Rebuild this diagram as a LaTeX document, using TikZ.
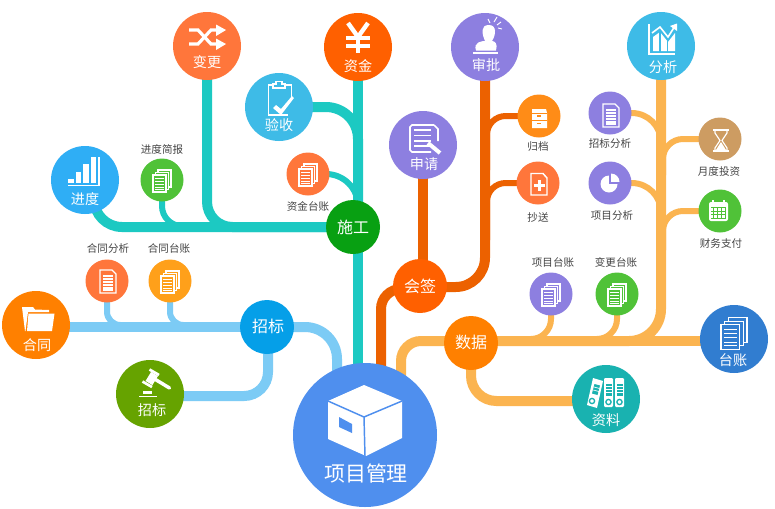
\documentclass[tikz,border=0pt]{standalone}
\usepackage{fontspec}
\setmainfont{Noto Sans CJK SC}
\usetikzlibrary{backgrounds,calc}
\definecolor{cTeal}{HTML}{1CC9C2}
\definecolor{cRust}{HTML}{EC6100}
\definecolor{cAmber}{HTML}{FBB450}
\definecolor{cSky}{HTML}{7CCBF5}
\definecolor{cCoral}{HTML}{FF763B}
\definecolor{cRed}{HTML}{FF6000}
\definecolor{cCyan}{HTML}{3EBBE7}
\definecolor{cAzure}{HTML}{2FAEF5}
\definecolor{cLime}{HTML}{50C238}
\definecolor{cForest}{HTML}{08A012}
\definecolor{cViolet}{HTML}{8D7FE0}
\definecolor{cOrange}{HTML}{FF8000}
\definecolor{cTang}{HTML}{FF8C17}
\definecolor{cGold}{HTML}{FFA01A}
\definecolor{cTan}{HTML}{CD9C62}
\definecolor{cBlue}{HTML}{059FE8}
\definecolor{cOlive}{HTML}{66A300}
\definecolor{cMain}{HTML}{4F8FEE}
\definecolor{cNavy}{HTML}{317DD0}
\definecolor{cSea}{HTML}{19B2B0}
\definecolor{cLabel}{HTML}{444444}
\tikzset{
  x=0.75pt,y=-0.75pt,
  bigdisc/.style={circle,inner sep=0pt,minimum size=51pt,fill=#1},
  middisc/.style={circle,inner sep=0pt,minimum size=40.5pt,fill=#1},
  smalldisc/.style={circle,inner sep=0pt,minimum size=32.25pt,fill=#1},
  inlabel/.style={text=white,font=\fontsize{10.6pt}{12pt}\selectfont,inner sep=0pt},
  midlabel/.style={text=white,font=\fontsize{12pt}{14pt}\selectfont,inner sep=0pt},
  outlabel/.style={text=cLabel,font=\fontsize{7.9pt}{10pt}\selectfont,inner sep=0pt},
  trunk/.style={draw=#1,line width=7.5pt,rounded corners=19pt},
  twig/.style={draw=#1,line width=4.5pt,rounded corners=15pt},
  icon/.style={draw=white,line width=0.85pt,line join=miter},
  solidic/.style={fill=white,draw=none},
}
% node, disc colour, scale, offset
\newcommand{\stackic}[4]{%
  \begin{scope}[shift={(#1.center)},shift={#4},scale=#3,icon]
    \foreach \dd in {5,2.5,0} {\draw[fill=#2] (-9+\dd,-5-\dd) rectangle (4+\dd,12-\dd);}
    \foreach \yy in {-2,1,4,7,9.5} {\draw[line width=.6pt] (-7,\yy) -- (2,\yy);}
  \end{scope}}
% node, offset
\newcommand{\docic}[2]{%
  \begin{scope}[shift={(#1.center)},shift={#2},icon]
    \draw (-7,-11) -- (5,-11) -- (9,-7) -- (9,12) -- (-7,12) -- cycle;
    \foreach \yy in {-5,-2,1,4,7,9} {\draw[line width=.8pt] (-4,\yy) -- (6,\yy);}
  \end{scope}}
\begin{document}
\begin{tikzpicture}
\path[use as bounding box] (0,0) rectangle (775,508);

% discs and labels
\node[bigdisc=cCoral] (bg) at (207,46) {};
\node[inlabel] (bgt) at (207,62) {变更};
\node[bigdisc=cRed] (zj) at (358,47) {};
\node[inlabel] (zjt) at (358,66) {资金};
\node[bigdisc=cCyan] (ys) at (279,107) {};
\node[inlabel] (yst) at (279,125) {验收};
\node[bigdisc=cAzure] (jd) at (85,180) {};
\node[inlabel] (jdt) at (85,199) {进度};
\node[smalldisc=cLime] (jb) at (162,180) {};
\node[outlabel] (jbt) at (162,149) {进度简报};
\node[smalldisc=cCoral] (zt) at (308,174) {};
\node[outlabel] (ztt) at (308,206) {资金台账};
\node[middisc=cForest] (sg) at (353,227) {};
\node[midlabel] (sgt) at (353,227) {施工};
\node[bigdisc=cViolet] (sq) at (423,145) {};
\node[inlabel] (sqt) at (424,164) {申请};
\node[bigdisc=cViolet] (sp) at (485,47) {};
\node[inlabel] (spt) at (486,65) {审批};
\node[smalldisc=cTang] (gd) at (539,116) {};
\node[outlabel] (gdt) at (538,147) {归档};
\node[smalldisc=cCoral] (cs) at (538,183) {};
\node[outlabel] (cst) at (538,217) {抄送};
\node[smalldisc=cViolet] (zf) at (610,113) {};
\node[outlabel] (zft) at (610,144) {招标分析};
\node[smalldisc=cViolet] (xf) at (610,183) {};
\node[outlabel] (xft) at (612,216) {项目分析};
\node[bigdisc=cCyan] (fx) at (661,46) {};
\node[inlabel] (fxt) at (663,67) {分析};
\node[smalldisc=cTan] (yd) at (720,139) {};
\node[outlabel] (ydt) at (719,171) {月度投资};
\node[smalldisc=cLime] (cw) at (720,211) {};
\node[outlabel] (cwt) at (721,243) {财务支付};
\node[bigdisc=cOrange] (ht) at (36,325) {};
\node[inlabel] (htt) at (37,345) {合同};
\node[smalldisc=cCoral] (hf) at (107,281) {};
\node[outlabel] (hft) at (108,248) {合同分析};
\node[smalldisc=cGold] (hz) at (170,281) {};
\node[outlabel] (hzt) at (169,248) {合同台账};
\node[middisc=cBlue] (zb) at (267,327) {};
\node[midlabel] (zbt) at (268,326) {招标};
\node[bigdisc=cOlive] (zg) at (150,394) {};
\node[inlabel] (zgt) at (152,410) {招标};
\node[circle,inner sep=0pt,minimum size=108pt,fill=cMain] (pm) at (365,435) {};
\node[text=white,font=\fontsize{15.7pt}{18pt}\selectfont,inner sep=0pt] (pmt) at (366,474) {项目管理};
\node[middisc=cRed] (hq) at (420,286) {};
\node[midlabel] (hqt) at (420,286) {会签};
\node[middisc=cOrange] (sj) at (471,343) {};
\node[midlabel] (sjt) at (471,342) {数据};
\node[smalldisc=cViolet] (xt) at (551,294) {};
\node[outlabel] (xtt) at (553,262) {项目台账};
\node[smalldisc=cLime] (bt) at (617,294) {};
\node[outlabel] (btt) at (616,262) {变更台账};
\node[bigdisc=cNavy] (tz) at (734,339) {};
\node[inlabel] (tzt) at (733,360) {台账};
\node[bigdisc=cSea] (zl) at (606,399) {};
\node[inlabel] (zlt) at (606,420) {资料};

% free ends on the trunks
\coordinate (jdfoot) at (94,190);
\coordinate (pmTeal) at (358,400);
\coordinate (sgTop) at (358,227);
\coordinate (pmRust) at (381,400);
\coordinate (hqLeft) at (420,289);
\coordinate (hqTop) at (423,286);
\coordinate (pmAmber) at (401,400);
\coordinate (pmSky) at (337,400);
\coordinate (spEnd) at (420,287);
\coordinate (trRust) at (487,170);
\coordinate (trRustB) at (487,240);
\coordinate (trAmberA) at (661,160);
\coordinate (trAmberB) at (661,230);
\coordinate (trAmberC) at (663,175);
\coordinate (trAmberD) at (663,250);
\coordinate (xtEnd) at (520,339);
\coordinate (btEnd) at (586,339);
\coordinate (sjLine) at (471,341);
\coordinate (tzIn) at (734,341);
\coordinate (zlIn) at (606,401);
\coordinate (zbDown) at (268,327);
\coordinate (zgIn) at (150,396);
\coordinate (htIn) at (36,327);
\coordinate (htY) at (130,325);
\coordinate (hzY) at (193,325);
\coordinate (jbY) at (190,226);

\begin{scope}[on background layer]
  \fill[white] (0,0) rectangle (775,508);
  % teal
  \draw[trunk=cTeal] (bg.center) |- (sg.center);
  \draw[trunk=cTeal,rounded corners=21pt] (jdfoot) |- (sg.center);
  \draw[trunk=cTeal] (zj.center) -- (pmTeal);
  \draw[trunk=cTeal,rounded corners=24pt] (ys.center) -| (sgTop);
  \draw[twig=cTeal] (jb.center) |- (jbY);
  \draw[twig=cTeal,rounded corners=24pt] (zt.center) -| (sgTop);
  % rust
  \draw[trunk=cRust] (sq.center) -- (hqTop);
  \draw[trunk=cRust,rounded corners=22pt] (sp.center) |- (spEnd);
  \draw[trunk=cRust,rounded corners=15pt] (pmRust) |- (hqLeft);
  \draw[twig=cRust,rounded corners=14pt] (gd.center) -| (trRust);
  \draw[twig=cRust,rounded corners=14pt] (cs.center) -| (trRustB);
  % amber
  \draw[trunk=cAmber,rounded corners=24pt] (fx.center) |- (sjLine);
  \draw[trunk=cAmber] (tzIn) -- (sjLine);
  \draw[trunk=cAmber,rounded corners=15pt] (sjLine) -| (pmAmber);
  \draw[trunk=cAmber,rounded corners=19pt] (sjLine) |- (zlIn);
  \draw[twig=cAmber] (xt.center) |- (xtEnd);
  \draw[twig=cAmber] (bt.center) |- (btEnd);
  \draw[twig=cAmber,rounded corners=22pt] (zf.center) -| (trAmberA);
  \draw[twig=cAmber,rounded corners=22pt] (xf.center) -| (trAmberB);
  \draw[twig=cAmber,rounded corners=15pt] (yd.center) -| (trAmberC);
  \draw[twig=cAmber,rounded corners=15pt] (cw.center) -| (trAmberD);
  % sky
  \draw[trunk=cSky] (htIn) -- (zb.center);
  \draw[trunk=cSky,rounded corners=24pt] (zb.center) -| (pmSky);
  \draw[trunk=cSky,rounded corners=18pt] (zbDown) |- (zgIn);
  \draw[twig=cSky,rounded corners=10pt] (hf.center) |- (htY);
  \draw[twig=cSky,rounded corners=10pt] (hz.center) |- (hzY);
\end{scope}

% shuffle icon
\begin{scope}[icon,line width=2.4pt]
  \draw (189,30) -- (198,30) -- (211,44) -- (218,44);
  \draw (189,44) -- (198,44) -- (211,30) -- (218,30);
\end{scope}
\fill[white] (216,24.5) -- (226,30) -- (216,36) -- cycle;
\fill[white] (216,38.5) -- (226,44) -- (216,50) -- cycle;

% yen icon
\begin{scope}[icon,line width=3.3pt]
  \draw (348,23) -- (358,37) -- (368,23);
  \draw (358,37) -- (358,53);
  \draw (346,38) -- (370,38);
  \draw (346,46) -- (370,46);
\end{scope}

% clipboard icon
\begin{scope}[icon,line width=1.1pt]
  \draw (273,85) -- (268.5,85) -- (268.5,115) -- (288,115);
  \draw (285,85) -- (291.5,85) -- (291.5,100);
  \draw (273,88) -- (273,84) -- (276,84) -- (276,81.5) -- (282,81.5) -- (282,84) -- (285,84) -- (285,88) -- cycle;
\end{scope}
\fill[white] (273,108) -- (276,105) -- (281,109) -- (292,96) -- (294,98) -- (281,115) -- cycle;

% bars icon
\fill[white] (68,179) rectangle (74,183);
\fill[white] (75.5,172) rectangle (81,183);
\fill[white] (83,164) rectangle (89,183);
\fill[white] (90.5,157) rectangle (96,183);
\draw[icon] (68,185.5) -- (99,185.5) -- (99,157);

% document icons
\stackic{jb}{cLime}{1}{(0,0)}
\stackic{zt}{cCoral}{1}{(0,0)}
\stackic{hz}{cGold}{1}{(0,0)}
\stackic{xt}{cViolet}{1}{(0,0)}
\stackic{bt}{cLime}{1}{(0,0)}
\stackic{tz}{cNavy}{1.45}{(0,-7)}
\docic{hf}{(0,0)}
\docic{zf}{(0,2)}

% request icon
\draw[icon,line width=1.2pt] (434,125) -- (412,125) -- (410,127) -- (410,150) -- (412,152) -- (431,152);
\draw[icon,line width=1.2pt] (434,125) -- (438,129) -- (438,141);
\foreach \yy in {130,135.5,141,146} {\draw[icon,line width=1.1pt] (414,\yy) -- (431,\yy);}
\draw[white,line width=3pt] (428,143) -- (440,153);

% stamp icon
\fill[white] (476,50.5) .. controls (473,42) and (482,41) .. (485,41) .. controls (482,34) and (480,25) .. (489,25) .. controls (497,25) and (496,35) .. (492,41) .. controls (495,41) and (498,44) .. (496,50.5) -- cycle;
\draw[icon] (473,53) -- (498,53);
\draw[icon,line width=.7pt] (490,23) -- (488,19) (494,22) -- (497,17) (497,25) -- (501,22) (498,28) -- (502,29);

% cabinet icon
\fill[white] (532,109) -- (546,109) -- (547,113) -- (547,128) -- (532,128) -- (532,113) -- cycle;
\draw[cTang,line width=.6pt] (532,113) -- (547,113) (532,120.5) -- (547,120.5);
\draw[cTang,line width=1pt] (537,116) -- (541,116) (537,123.5) -- (541,123.5);

% copy icon
\draw[icon,line width=1.1pt] (531,173.5) -- (543,173.5) -- (547,178) -- (547,195) -- (531,195) -- cycle;
\fill[white] (537.5,180) rectangle (541,191);
\fill[white] (534,183.5) rectangle (544.5,187);

% pie icon
\fill[white] (609,184) circle[radius=8.5];
\fill[cViolet] (609,184) rectangle (620,172);
\begin{scope}
  \clip (611,182) circle[radius=8.5];
  \fill[white] (611,182) rectangle (622,171);
\end{scope}

% rising chart icon
\draw[icon] (649,24) -- (649,54) -- (675,54);
\fill[white] (653,37) -- (660,32) -- (668,42) -- (675,33) -- (675,51) -- (653,51) -- cycle;
\draw[cCyan,line width=.9pt] (660,30) -- (660,52) (667.5,30) -- (667.5,52);
\draw[icon,line width=1.2pt] (652,33) -- (660,27) -- (668,37) -- (675,26);
\fill[white] (670,26) -- (677,23.5) -- (677,31) -- cycle;

% hourglass icon
\draw[icon,line width=1.3pt] (713,130) -- (729,130) (713,151) -- (729,151);
\draw[icon] (715,130) -- (715,133) -- (720,140.5) -- (715,148) -- (715,151);
\draw[icon] (727,130) -- (727,133) -- (722,140.5) -- (727,148) -- (727,151);
\fill[white] (721,142) -- (726,150) -- (716,150) -- cycle;

% calendar icon
\fill[white,rounded corners=1.5pt] (709,202) rectangle (728,221);
\foreach \xx in {713,717,721,725} {\draw[cLime,line width=.6pt] (\xx,207) -- (\xx,219);}
\foreach \yy in {207.5,211,214.5,218} {\draw[cLime,line width=.6pt] (711,\yy) -- (726,\yy);}
\draw[icon,line width=2pt] (713,200) -- (713,204) (724,200) -- (724,204);

% folder icon
\fill[white] (22,307) -- (33,307) -- (35,309.5) -- (49,310) -- (49,312) -- (28,312) -- (25.5,331) -- (25,331) -- cycle;
\fill[white] (28.5,313.5) -- (54.5,313.5) -- (52,331) -- (27,331) -- cycle;

% gavel icon
\draw[white,line width=6pt] (154.5,374) -- (149,383);
\draw[white,line width=2pt] (149.5,369.5) -- (159,375);
\draw[white,line width=2pt] (142.5,381.5) -- (152,387);
\draw[white,line width=2.6pt,line cap=round] (153,378) -- (169.5,388);
\fill[white] (143,391) rectangle (152,393.5);
\fill[white] (139,395.5) rectangle (157,397);

% box icon
\fill[white] (364,385) -- (402,401) -- (402,438) -- (366,456) -- (328,439) -- (328,401) -- cycle;
\draw[cMain,line width=1.1pt] (328,401) -- (364,417) -- (402,401) (364,417) -- (365,456);
\fill[cMain] (339,417) -- (352,424) -- (352,433) -- (339,427) -- cycle;

% binder icon
\fill[white] (593,378) -- (603,381) -- (597,408) -- (587,405) -- cycle;
\fill[white,rounded corners=.8pt] (604,378) rectangle (613,407);
\fill[white,rounded corners=.8pt] (615,378) rectangle (624,407);
\fill[cSea] (594.5,384) -- (600,385.5) -- (597.5,395) -- (592,393.5) -- cycle;
\fill[cSea] (605.5,384) rectangle (611.5,396);
\fill[cSea] (616.5,384) rectangle (622.5,396);
\foreach \yy in {386,389,392} {\draw[white,line width=.5pt] (605.5,\yy) -- (611.5,\yy) (616.5,\yy) -- (622.5,\yy);}
\draw[white,line width=.5pt] (594,387) -- (599.5,388.5) (593.3,390) -- (598.8,391.5);
\draw[cSea,line width=1pt] (592,401) circle[radius=2.6] (608.5,402) circle[radius=2.6] (619.5,402) circle[radius=2.6];
\end{tikzpicture}
\end{document}
